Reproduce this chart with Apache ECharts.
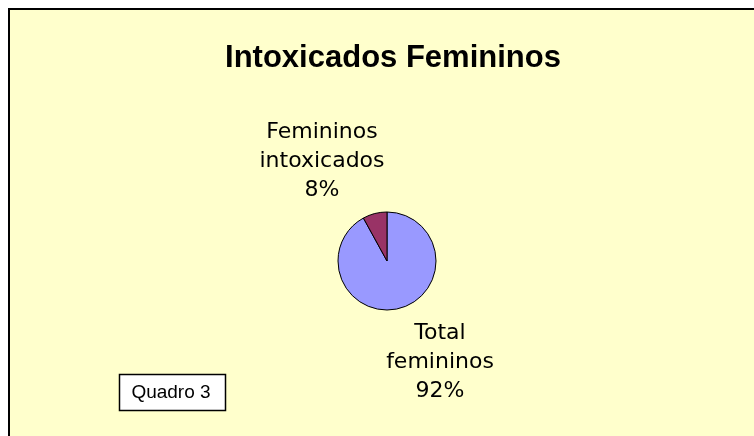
<!DOCTYPE html>
<html lang="pt">
<head>
    <meta charset="UTF-8">
    <title>Intoxicados Femininos</title>
    <script src="https://cdn.jsdelivr.net/npm/echarts@6/dist/echarts.min.js"></script>
    <style>
        html, body { margin: 0; padding: 0; background: #fff; }
        #chart { width: 754px; height: 436px; }
    </style>
</head>
<body>
<div id="chart"></div>
<script type="text/javascript">
    // dados do quadro 3
    var categorias = ['Total\nfemininos', 'Femininos\nintoxicados'];
    var valores = [92, 8];
    var cores = ['#9999FF', '#993366'];

    // posicao dos rotulos (centro do texto), relativa ao centro da pizza
    var centro = [387, 261];
    var desloc = [[53, 101], [-65, -100]];

    var myChart = echarts.init(document.getElementById('chart'));

    var dados = categorias.map(function (c, i) {
        return { name: c, value: valores[i], itemStyle: { color: cores[i] } };
    });

    var option = {
        backgroundColor: '#ffffff',
        animation: false,
        title: {
            text: 'Intoxicados Femininos',
            left: 388,
            top: 38,
            textAlign: 'center',
            textStyle: {
                fontFamily: 'Liberation Sans, Arial',
                fontWeight: 'bold',
                fontSize: 31,
                color: '#000'
            }
        },
        graphic: [
            {
                type: 'rect',
                z: -10,
                shape: { x: 9, y: 9, width: 760, height: 440 },
                style: { fill: '#FFFFCC', stroke: '#000', lineWidth: 2 }
            },
            {
                type: 'rect',
                z: 10,
                shape: { x: 119.5, y: 374.5, width: 106, height: 36 },
                style: { fill: '#fff', stroke: '#000', lineWidth: 1.5 }
            },
            {
                type: 'text',
                z: 11,
                x: 171,
                y: 393,
                style: {
                    text: 'Quadro 3',
                    fontFamily: 'Liberation Sans, Arial',
                    fontSize: 19,
                    fill: '#000',
                    align: 'center',
                    verticalAlign: 'middle'
                }
            }
        ],
        series: [
            {
                type: 'pie',
                center: centro,
                radius: 49,
                startAngle: 90,
                clockwise: true,
                data: dados,
                itemStyle: { borderColor: '#000', borderWidth: 1 },
                emphasis: { disabled: true },
                label: {
                    show: true,
                    position: 'outside',
                    formatter: function (p) { return p.name + '\n' + p.value + '%'; },
                    fontFamily: 'DejaVu Sans',
                    fontSize: 22,
                    lineHeight: 29,
                    color: '#000',
                    align: 'center'
                },
                labelLine: { show: false },
                labelLayout: function (p) {
                    var d = desloc[p.dataIndex];
                    return {
                        x: centro[0] + d[0],
                        y: centro[1] + d[1],
                        align: 'center',
                        verticalAlign: 'middle'
                    };
                }
            }
        ]
    };
    myChart.setOption(option);
</script>
</body>
</html>
